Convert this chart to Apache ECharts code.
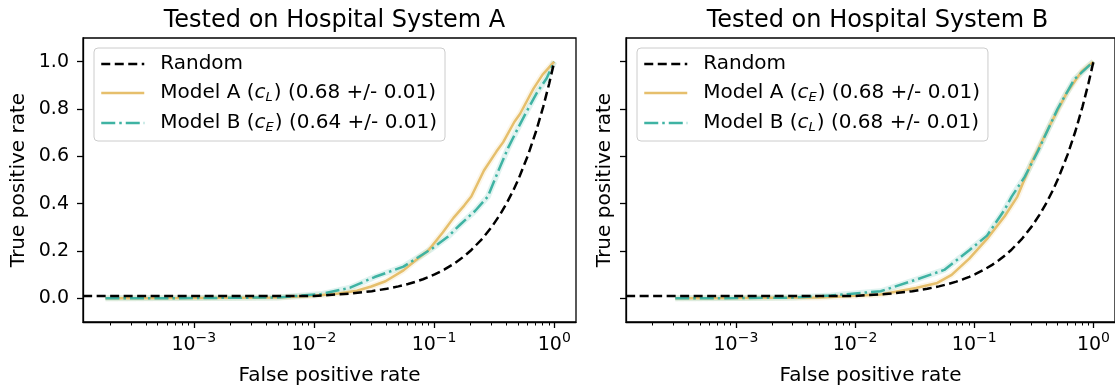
<!DOCTYPE html>
<html>
<head>
<meta charset="utf-8">
<script src="https://cdn.jsdelivr.net/npm/echarts@6/dist/echarts.min.js"></script>
<style>
  html, body { margin: 0; padding: 0; background: #fff; }
  #chart { width: 1115px; height: 391px; }
</style>
</head>
<body>
<div id="chart"></div>
<script>
// data: [false positive rate, true positive rate]
var randomLine = [[1.2e-4, 0.0101], [0.0101, 0.0101], [0.0202, 0.0202], [0.0303, 0.0303], [0.0404, 0.0404],
  [0.0505, 0.0505], [0.0606, 0.0606], [0.0707, 0.0707], [0.0808, 0.0808], [0.0909, 0.0909], [0.101, 0.101],
  [0.1212, 0.1212], [0.1414, 0.1414], [0.1616, 0.1616], [0.1818, 0.1818], [0.202, 0.202], [0.2525, 0.2525],
  [0.303, 0.303], [0.3535, 0.3535], [0.404, 0.404], [0.4545, 0.4545], [0.505, 0.505], [0.606, 0.606],
  [0.707, 0.707], [0.808, 0.808], [0.909, 0.909], [1.0, 1.0]];

// panel A
var aModelA = [[1.84e-4, 0], [1e-3, 0.001], [5e-3, 0.004], [0.01, 0.011], [0.016, 0.02], [0.0228, 0.032],
  [0.03, 0.05], [0.0394, 0.072], [0.0556, 0.118], [0.07, 0.16], [0.0898, 0.203], [0.118, 0.278], [0.145, 0.34],
  [0.178, 0.392], [0.204, 0.43], [0.26, 0.54], [0.33, 0.62], [0.376, 0.66], [0.465, 0.745], [0.52, 0.78],
  [0.67, 0.885], [0.8, 0.945], [1.0, 1.0]];
var aModelB = [[1.84e-4, 0], [1e-3, 0.001], [5e-3, 0.004], [0.0115, 0.018], [0.02, 0.045], [0.032, 0.09],
  [0.0556, 0.134], [0.096, 0.21], [0.13, 0.26], [0.166, 0.313], [0.22, 0.37], [0.28, 0.43], [0.35, 0.55],
  [0.414, 0.637], [0.5, 0.72], [0.589, 0.789], [0.72, 0.87], [0.865, 0.93], [1.0, 1.0]];

// panel B
var bModelA = [[3.1e-4, 0], [1e-3, 0.001], [5e-3, 0.004], [0.0164, 0.016], [0.0325, 0.044], [0.049, 0.065],
  [0.0646, 0.099], [0.0908, 0.168], [0.128, 0.251], [0.18, 0.347], [0.23, 0.43], [0.3, 0.57], [0.42, 0.72],
  [0.6, 0.87], [0.8, 0.96], [1.0, 1.0]];
var bModelB = [[3.1e-4, 0], [1e-3, 0.001], [3e-3, 0.003], [0.0063, 0.012], [0.0164, 0.03], [0.0325, 0.079],
  [0.056, 0.12], [0.0908, 0.203], [0.128, 0.265], [0.18, 0.375], [0.206, 0.43], [0.265, 0.513], [0.343, 0.623],
  [0.5, 0.8], [0.69, 0.925], [1.0, 1.0]];

var titles = ['Tested on Hospital System A', 'Tested on Hospital System B'];
var namesA = ['Random', 'Model A (c_L) (0.68 +/- 0.01)', 'Model B (c_E) (0.64 +/- 0.01)'];
var namesB = ['Random', 'Model A (c_E) (0.68 +/- 0.01)', 'Model B (c_L) (0.68 +/- 0.01)'];
var yTicks = [0, 0.2, 0.4, 0.6, 0.8, 1.0];
var xMajor = [-3, -2, -1, 0];

var gold = '#e6bf6c', teal = '#3fb3a3';
var font = 'DejaVu Sans';
var xLogMin = -3.922, xLogMax = 0.181;

var xMinor = [];
for (var d = -4; d <= 0; d++) {
  for (var k = 2; k <= 9; k++) {
    var v = d + Math.log10(k);
    if (v > xLogMin && v < xLogMax) xMinor.push(v);
  }
}

var grids = [
  { left: 83, top: 38, width: 493, height: 291 },
  { left: 626, top: 38, width: 493, height: 291 }
];

function legendFmt(name) {
  // "Model A (c_L) (...)" -> italic c with subscript
  var m = name.match(/^(.*)\(c_(\w)\)(.*)$/);
  if (!m) return '{n|' + name + '}';
  return '{n|' + m[1] + '(}{i|c}{s|' + m[2] + '}{n|)' + m[3] + '}';
}

var richLegend = {
  n: { fontFamily: font, fontSize: 20, color: '#000', lineHeight: 22 },
  i: { fontFamily: font, fontSize: 20, fontStyle: 'italic', color: '#000', lineHeight: 22 },
  s: { fontFamily: font, fontSize: 13, fontStyle: 'italic', color: '#000', lineHeight: 22, verticalAlign: 'bottom', padding: [0, 1, 0, 0] }
};

var option = {
  animation: false,
  title: [0, 1].map(function (i) {
    return {
      text: titles[i],
      left: grids[i].left + grids[i].width / 2,
      top: 4,
      textAlign: 'center',
      textStyle: { fontFamily: font, fontSize: 24, fontWeight: 'normal', color: '#000' }
    };
  }),
  legend: [0, 1].map(function (i) {
    return {
      data: i === 0 ? namesA : namesB,
      orient: 'vertical',
      left: grids[i].left + 11,
      top: 48,
      itemWidth: 43,
      itemHeight: 14,
      itemGap: 9,
      padding: [6, 8, 7, 6],
      backgroundColor: 'rgba(255,255,255,0.8)',
      borderColor: '#cccccc',
      borderWidth: 1,
      borderRadius: 4,
      selectedMode: false,
      itemStyle: { opacity: 0 },
      lineStyle: { width: 2.5 },
      formatter: legendFmt,
      textStyle: { fontFamily: font, fontSize: 20, color: '#000', padding: [0, 0, 0, 11], rich: richLegend }
    };
  }),
  grid: grids.map(function (g) {
    return Object.assign({ show: true, borderColor: '#000', borderWidth: 1.3, backgroundColor: 'transparent' }, g);
  }),
  xAxis: [],
  yAxis: [0, 1].map(function (i) {
    return {
      type: 'value',
      gridIndex: i,
      min: -0.1,
      max: 1.1,
      name: 'True positive rate',
      nameLocation: 'middle',
      nameRotate: 90,
      nameGap: i === 0 ? 54 : 11,
      nameTextStyle: { fontFamily: font, fontSize: 20, color: '#000' },
      axisLine: { show: true, onZero: false, lineStyle: { color: '#000', width: 1.3 } },
      axisTick: { show: true, length: 6, customValues: yTicks, lineStyle: { color: '#000', width: 1.3 } },
      axisLabel: {
        show: i === 0, customValues: yTicks, margin: 14,
        fontFamily: font, fontSize: 19, color: '#000',
        formatter: function (v) { return v.toFixed(1); }
      },
      splitLine: { show: false }
    };
  }),
  series: []
};

[0, 1].forEach(function (i) {
  // data axis (log scale)
  option.xAxis.push({
    type: 'log', logBase: 10, gridIndex: i, position: 'bottom',
    min: Math.pow(10, xLogMin), max: Math.pow(10, xLogMax),
    axisLine: { show: true, onZero: false, lineStyle: { color: '#000', width: 1.3 } },
    axisTick: { show: false }, axisLabel: { show: false }, splitLine: { show: false }, minorTick: { show: false }
  });
  // minor ticks
  option.xAxis.push({
    type: 'value', gridIndex: i, position: 'bottom', min: xLogMin, max: xLogMax,
    axisLine: { show: false, onZero: false },
    axisTick: { show: true, length: 3.5, customValues: xMinor, lineStyle: { color: '#000', width: 1 } },
    axisLabel: { show: false }, splitLine: { show: false }
  });
  // major ticks + labels
  option.xAxis.push({
    type: 'value', gridIndex: i, position: 'bottom', min: xLogMin, max: xLogMax,
    name: 'False positive rate', nameLocation: 'middle', nameGap: 44,
    nameTextStyle: { fontFamily: font, fontSize: 20, color: '#000' },
    axisLine: { show: false, onZero: false },
    axisTick: { show: true, length: 6, customValues: xMajor, lineStyle: { color: '#000', width: 1.3 } },
    axisLabel: {
      show: true, customValues: xMajor, margin: 9,
      formatter: function (v) {
        var n = Math.round(v);
        return '{b|10}{e|' + (n < 0 ? '\u2212' + (-n) : n) + '}';
      },
      rich: {
        b: { fontFamily: font, fontSize: 19, color: '#000', lineHeight: 24, verticalAlign: 'bottom' },
        e: { fontFamily: font, fontSize: 14, color: '#000', lineHeight: 14, verticalAlign: 'top' }
      }
    },
    splitLine: { show: false }
  });
});

var panels = [
  { names: namesA, a: aModelA, b: aModelB },
  { names: namesB, a: bModelA, b: bModelB }
];

panels.forEach(function (p, i) {
  var xi = i * 3;
  // faint confidence bands under the model curves
  option.series.push({
    type: 'line', xAxisIndex: xi, yAxisIndex: i, data: p.a, symbol: 'none', silent: true,
    lineStyle: { color: gold, width: 6, opacity: 0.16 }, z: 1
  });
  option.series.push({
    type: 'line', xAxisIndex: xi, yAxisIndex: i, data: p.b, symbol: 'none', silent: true,
    lineStyle: { color: teal, width: 6, opacity: 0.16 }, z: 1
  });
  option.series.push({
    name: p.names[0], type: 'line', xAxisIndex: xi, yAxisIndex: i, data: randomLine, symbol: 'none',
    lineStyle: { color: '#000', width: 2.5, type: [9, 4.5] }, itemStyle: { color: '#000' }, z: 3
  });
  option.series.push({
    name: p.names[1], type: 'line', xAxisIndex: xi, yAxisIndex: i, data: p.a, symbol: 'none',
    lineStyle: { color: gold, width: 2.5 }, itemStyle: { color: gold }, z: 2
  });
  option.series.push({
    name: p.names[2], type: 'line', xAxisIndex: xi, yAxisIndex: i, data: p.b, symbol: 'none',
    lineStyle: { color: teal, width: 2.5, type: [14, 4, 2.5, 4] }, itemStyle: { color: teal }, z: 2
  });
});

var chart = echarts.init(document.getElementById('chart'), null, { renderer: 'canvas' });
chart.setOption(option);
window.addEventListener('resize', function () { chart.resize(); });
</script>
</body>
</html>
